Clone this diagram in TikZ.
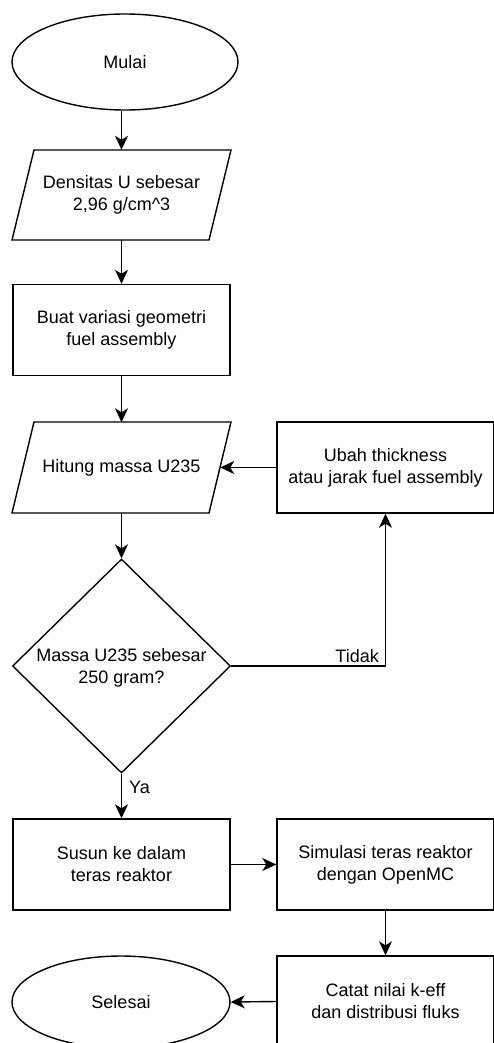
\documentclass[tikz,border=0pt]{standalone}
\usepackage{fontspec}
\setmainfont{Liberation Sans}
\usetikzlibrary{shapes.geometric,arrows.meta}
\begin{document}
\begin{tikzpicture}[x=1pt,y=-1pt,
  every node/.style={font=\fontsize{18}{22}\selectfont, align=center, inner sep=0pt},
  ln/.style={line width=1.4pt},
  box/.style={ln, draw, rectangle, minimum width=217pt, minimum height=91pt},
  term/.style={ln, draw, ellipse, minimum width=226pt, minimum height=96pt},
  dec/.style={ln, draw, diamond, minimum width=218pt, minimum height=214pt},
  io/.style={rectangle, minimum width=197pt, minimum height=90pt},
  arr/.style={ln, -{Stealth[length=14pt,width=13pt,inset=4pt]}}
]
\useasboundingbox (0,0) rectangle (494,1043);
\clip (0,0) rectangle (494,1043);
\fill[white] (0,0) rectangle (494,1043);

\node[term] (mulai) at (125,62) {Mulai};

\draw[ln] (34,150) -- (231,150) -- (209,240) -- (12,240) -- cycle;
\node[io] (dens) at (121.5,195) {Densitas U sebesar\\2,96 g/cm\^{}3};

\node[box] (buat) at (121.5,330) {Buat variasi geometri\\fuel assembly};

\draw[ln] (34,422) -- (231,422) -- (209,513) -- (12,513) -- cycle;
\node[io] (hitung) at (121.5,467.5) {Hitung massa U235};

\node[box] (ubah) at (385.5,467.5) {Ubah thickness\\atau jarak fuel assembly};

\node[dec] (cek) at (121.5,666) {};
\node (cektxt) at (121.5,668) {Massa U235 sebesar\\250 gram?};

\node[box] (susun) at (121.5,864.5) {Susun ke dalam\\teras reaktor};
\node[box] (sim) at (385.5,864.5) {Simulasi teras reaktor\\dengan OpenMC};
\node[box] (catat) at (385.5,1001.5) {Catat nilai k-eff\\dan distribusi fluks};
\node[term, minimum width=218pt, minimum height=92pt] (selesai) at (121,1002) {Selesai};

\draw[arr] (mulai.south -| dens.north) -- (dens.north);
\draw[arr] (dens.south) -- (buat.north);
\draw[arr] (buat.south) -- (hitung.north);
\draw[arr] (ubah.west) -- (hitung.east);
\draw[arr] (hitung.south) -- (cek.north);
\draw[arr] (cek.east) -- (cek.east -| ubah.south)
  node[anchor=south east, xshift=-6pt, yshift=3pt] {Tidak} -- (ubah.south);
\draw[arr] (cek.south) -- node[pos=0.3, right=7pt] {Ya} (susun.north);
\draw[arr] (susun.east) -- (sim.west);
\draw[arr] (sim.south) -- (catat.north);
\draw[arr] (catat.west) -- (selesai.east);
\end{tikzpicture}
\end{document}
